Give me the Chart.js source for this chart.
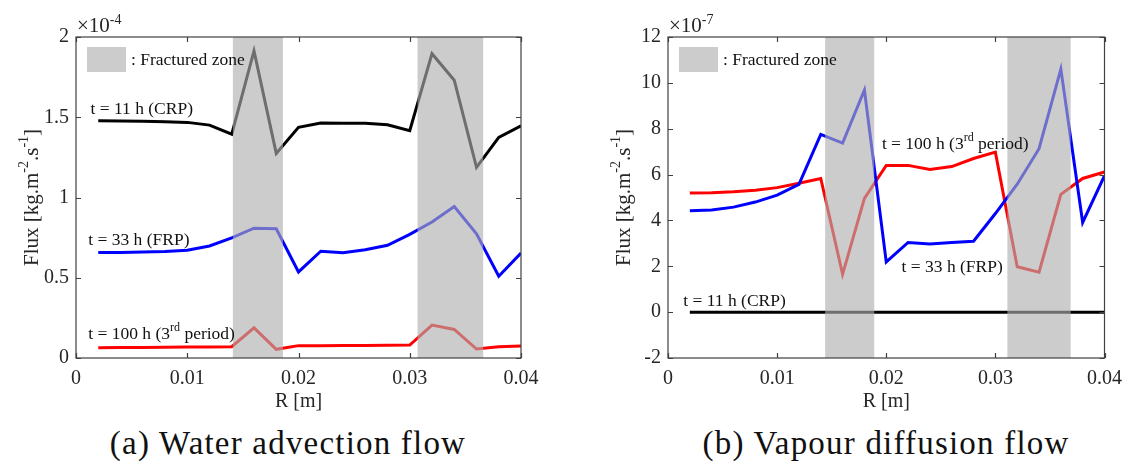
<!DOCTYPE html>
<html>
<head>
<meta charset="utf-8">
<script src="https://cdn.jsdelivr.net/npm/chart.js@4.4.0/dist/chart.umd.min.js"></script>
<style>
  body { margin: 0; background: #fff; width: 1131px; height: 468px; position: relative; overflow: hidden; }
  .painel { position: absolute; top: 0; }
  .legenda_fig {
    position: absolute; top: 425px; line-height: 36px;
    font-family: "Liberation Serif", "DejaVu Serif", serif; font-size: 33px; color: #111;
    white-space: nowrap; transform: translateX(-50%); letter-spacing: 1.2px;
  }
</style>
</head>
<body>
<div class="painel" style="left:0"><canvas id="fluxo_agua" width="566" height="418"></canvas></div>
<div class="painel" style="left:566px"><canvas id="fluxo_vapor" width="565" height="418"></canvas></div>
<div class="legenda_fig" style="left:288px">(a) Water advection flow</div>
<div class="legenda_fig" style="left:886px">(b) Vapour diffusion flow</div>

<script>
// raio [m]
const raio = [0.002, 0.004, 0.006, 0.008, 0.010, 0.012, 0.014, 0.016, 0.018, 0.020,
              0.022, 0.024, 0.026, 0.028, 0.030, 0.032, 0.034, 0.036, 0.038, 0.040];

// fluxo de agua (adveccao), em 1e-4 kg.m-2.s-1
const agua_11h = [1.478, 1.477, 1.475, 1.472, 1.468, 1.451, 1.395, 1.913, 1.275, 1.437,
                  1.464, 1.462, 1.462, 1.453, 1.416, 1.896, 1.731, 1.188, 1.375, 1.447];
const agua_33h = [0.658, 0.658, 0.660, 0.663, 0.671, 0.698, 0.749, 0.809, 0.805, 0.536,
                  0.665, 0.656, 0.675, 0.702, 0.770, 0.847, 0.944, 0.774, 0.509, 0.654];
const agua_100h = [0.064, 0.065, 0.066, 0.067, 0.068, 0.069, 0.070, 0.188, 0.054, 0.077,
                   0.077, 0.078, 0.078, 0.079, 0.081, 0.205, 0.178, 0.056, 0.070, 0.075];

// fluxo de vapor (difusao), em 1e-7 kg.m-2.s-1
const vapor_11h = [0, 0, 0, 0, 0, 0, 0, 0, 0, 0,
                   0, 0, 0, 0, 0, 0, 0, 0, 0, 0];
const vapor_33h = [4.42, 4.45, 4.58, 4.80, 5.10, 5.57, 7.75, 7.37, 9.69, 2.19,
                   3.04, 2.97, 3.04, 3.09, 4.30, 5.58, 7.13, 10.6, 3.91, 5.95];
const vapor_100h = [5.20, 5.21, 5.25, 5.32, 5.43, 5.62, 5.83, 1.65, 4.96, 6.40,
                    6.40, 6.22, 6.35, 6.70, 6.98, 1.98, 1.74, 5.14, 5.83, 6.11];

// zonas fraturadas [inicio, fim] em m
const zonas_agua = [[0.0141, 0.0186], [0.0307, 0.0366]];
const zonas_vapor = [[0.0144, 0.0189], [0.0311, 0.0369]];

const ticks_raio = [0, 0.01, 0.02, 0.03, 0.04];
const ticks_agua = [0, 0.5, 1, 1.5, 2];
const ticks_vapor = [-2, 0, 2, 4, 6, 8, 10, 12];

const FONTE = '"Liberation Serif", "DejaVu Serif", serif';
Chart.defaults.font.family = FONTE;
Chart.defaults.color = '#262626';

function pontos(serie) {
    return raio.map((r, i) => ({x: r, y: serie[i]}));
}

// escreve texto com trechos sobrescritos; partes = [[texto, sobrescrito?], ...]
function texto_rico(ctx, partes, x, y, tam, medir) {
    let px = x;
    for (const [t, sup] of partes) {
        const tf = sup ? Math.round(tam * 0.68) : tam;
        ctx.font = tf + 'px ' + FONTE;
        if (!medir) ctx.fillText(t, px, sup ? y - tam * 0.38 : y);
        px += ctx.measureText(t).width;
    }
    return px - x;
}

const moldura = {
    id: 'moldura',
    afterDatasetsDraw(chart, args, opts) {
        const {ctx, chartArea: a, scales: {x, y}} = chart;
        ctx.save();

        // zonas fraturadas por cima das curvas
        ctx.fillStyle = 'rgba(174,174,174,0.63)';
        for (const [x0, x1] of opts.zonas) {
            const p0 = x.getPixelForValue(x0), p1 = x.getPixelForValue(x1);
            ctx.fillRect(p0, a.top, p1 - p0, a.bottom - a.top);
        }

        // caixa e marcas para dentro
        ctx.strokeStyle = '#404040';
        ctx.lineWidth = 1.2;
        ctx.strokeRect(a.left, a.top, a.right - a.left, a.bottom - a.top);
        ctx.beginPath();
        for (const t of x.ticks) {
            const p = Math.round(x.getPixelForValue(t.value)) + 0.5;
            ctx.moveTo(p, a.bottom); ctx.lineTo(p, a.bottom - 5);
            ctx.moveTo(p, a.top); ctx.lineTo(p, a.top + 5);
        }
        for (const t of y.ticks) {
            const p = Math.round(y.getPixelForValue(t.value)) + 0.5;
            ctx.moveTo(a.left, p); ctx.lineTo(a.left + 5, p);
            ctx.moveTo(a.right, p); ctx.lineTo(a.right - 5, p);
        }
        ctx.stroke();

        // legenda
        ctx.fillStyle = 'rgb(204,204,204)';
        ctx.fillRect(a.left + 11, a.top + 10, 39, 25);
        ctx.fillStyle = '#111';
        ctx.textBaseline = 'middle';
        ctx.textAlign = 'left';
        ctx.font = '17.5px ' + FONTE;
        ctx.fillText(': Fractured zone', a.left + 55, a.top + 23);

        // nomes das curvas
        for (const r of opts.rotulos) {
            texto_rico(ctx, r.texto, x.getPixelForValue(r.x), y.getPixelForValue(r.y), 17.5);
        }

        // fator de escala
        ctx.fillStyle = '#262626';
        ctx.textBaseline = 'alphabetic';
        texto_rico(ctx, [['\u00d710'], [opts.expoente, true]], a.left + 1, a.top - 5, 21);

        // titulo do eixo x
        ctx.textBaseline = 'middle';
        ctx.textAlign = 'center';
        ctx.font = '20px ' + FONTE;
        ctx.fillText('R [m]', (a.left + a.right) / 2, a.bottom + 44);

        // titulo do eixo y
        ctx.textAlign = 'left';
        const titulo_y = [['Flux [kg.m'], ['-2', true], ['.s'], ['-1', true], [']']];
        ctx.translate(a.left - 44, (a.top + a.bottom) / 2);
        ctx.rotate(-Math.PI / 2);
        const w = texto_rico(ctx, titulo_y, 0, 0, 21, true);
        texto_rico(ctx, titulo_y, -w / 2, 0, 21);

        ctx.restore();
    }
};

function serie(label, valores, cor) {
    return {
        label: label,
        data: pontos(valores),
        borderColor: cor,
        borderWidth: 3,
        pointRadius: 0,
        tension: 0,
        fill: false
    };
}

function fmt(v) {
    return String(+Number(v).toFixed(4));
}

function config_grafico(datasets, ticks_y, largura_y, padding_dir, extra) {
    return {
        type: 'line',
        data: {datasets: datasets},
        options: {
            responsive: false,
            animation: false,
            layout: {padding: {top: 37, right: padding_dir, left: 0, bottom: 0}},
            plugins: {legend: {display: false}, tooltip: {enabled: false}, moldura: extra},
            scales: {
                x: {
                    type: 'linear',
                    min: ticks_raio[0],
                    max: ticks_raio[ticks_raio.length - 1],
                    afterBuildTicks: s => { s.ticks = ticks_raio.map(v => ({value: v})); },
                    afterFit: s => { s.height = 60; },
                    grid: {display: false, drawTicks: false},
                    border: {display: false},
                    ticks: {padding: 9, font: {size: 20}, callback: fmt, maxRotation: 0, autoSkip: false}
                },
                y: {
                    min: ticks_y[0],
                    max: ticks_y[ticks_y.length - 1],
                    afterBuildTicks: s => { s.ticks = ticks_y.map(v => ({value: v})); },
                    afterFit: s => { s.width = largura_y; },
                    grid: {display: false, drawTicks: false},
                    border: {display: false},
                    ticks: {padding: 7, font: {size: 20}, callback: fmt, autoSkip: false}
                }
            }
        },
        plugins: [moldura]
    };
}

const config_agua = config_grafico([
    serie('t = 11 h (CRP)', agua_11h, '#000000'),
    serie('t = 33 h (FRP)', agua_33h, '#0000ff'),
    serie('t = 100 h (3rd period)', agua_100h, '#ff0000')
], ticks_agua, 76, 45, {
    zonas: zonas_agua,
    expoente: '-4',
    rotulos: [
        {texto: [['t = 11 h (CRP)']], x: 0.0013, y: 1.55},
        {texto: [['t = 33 h (FRP)']], x: 0.0011, y: 0.735},
        {texto: [['t = 100 h (3'], ['rd', true], [' period)']], x: 0.0011, y: 0.145}
    ]
});

const config_vapor = config_grafico([
    serie('t = 11 h (CRP)', vapor_11h, '#000000'),
    serie('t = 33 h (FRP)', vapor_33h, '#0000ff'),
    serie('t = 100 h (3rd period)', vapor_100h, '#ff0000')
], ticks_vapor, 102, 20, {
    zonas: zonas_vapor,
    expoente: '-7',
    rotulos: [
        {texto: [['t = 100 h (3'], ['rd', true], [' period)']], x: 0.0196, y: 7.33},
        {texto: [['t = 33 h (FRP)']], x: 0.0214, y: 1.97},
        {texto: [['t = 11 h (CRP)']], x: 0.0014, y: 0.46}
    ]
});

const grafico_agua = new Chart(document.getElementById('fluxo_agua'), config_agua);
const grafico_vapor = new Chart(document.getElementById('fluxo_vapor'), config_vapor);
</script>
</body>
</html>
